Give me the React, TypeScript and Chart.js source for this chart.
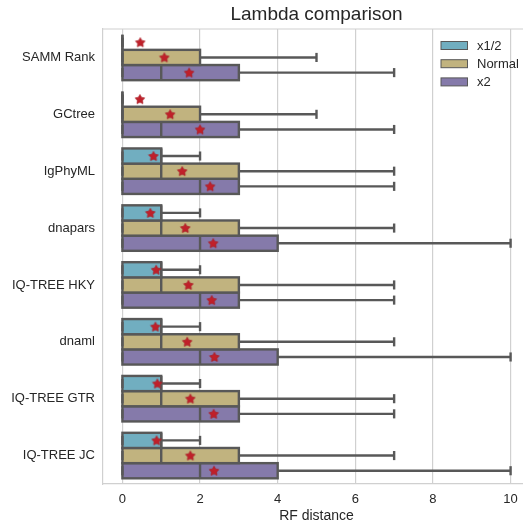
import React, { useEffect, useRef } from 'react';
import { Chart, registerables } from 'chart.js';
Chart.register(...registerables);

const methods = ['SAMM Rank', 'GCtree', 'IgPhyML', 'dnapars', 'IQ-TREE HKY', 'dnaml', 'IQ-TREE GTR', 'IQ-TREE JC'];
const seriesNames = ['x1/2', 'Normal', 'x2'];
const xTickValues = [0, 2, 4, 6, 8, 10];

// x1/2
const halfMin = [0, 0, 0, 0, 0, 0, 0, 0];
const halfQ1 = [0, 0, 0, 0, 0, 0, 0, 0];
const halfMedian = [0, 0, 1, 1, 1, 1, 1, 1];
const halfQ3 = [0, 0, 1, 1, 1, 1, 1, 1];
const halfMax = [0, 0, 2, 2, 2, 2, 2, 2];
const halfMean = [0.46, 0.45, 0.8, 0.72, 0.87, 0.85, 0.9, 0.88];

// Normal
const normalMin = [0, 0, 0, 0, 0, 0, 0, 0];
const normalQ1 = [0, 0, 0, 0, 0, 0, 0, 0];
const normalMedian = [0, 0, 1, 1, 1, 1, 1, 1];
const normalQ3 = [2, 2, 3, 3, 3, 3, 3, 3];
const normalMax = [5, 5, 7, 7, 7, 7, 7, 7];
const normalMean = [1.08, 1.23, 1.54, 1.62, 1.7, 1.67, 1.75, 1.75];

// x2
const doubleMin = [0, 0, 0, 0, 0, 0, 0, 0];
const doubleQ1 = [0, 0, 0, 0, 0, 0, 0, 0];
const doubleMedian = [1, 1, 2, 2, 2, 2, 2, 2];
const doubleQ3 = [3, 3, 3, 4, 3, 4, 3, 4];
const doubleMax = [7, 7, 7, 10, 7, 10, 7, 10];
const doubleMean = [1.72, 2.0, 2.26, 2.34, 2.3, 2.37, 2.35, 2.36];

const stats = [
  { min: halfMin, q1: halfQ1, med: halfMedian, q3: halfQ3, max: halfMax, mean: halfMean },
  { min: normalMin, q1: normalQ1, med: normalMedian, q3: normalQ3, max: normalMax, mean: normalMean },
  { min: doubleMin, q1: doubleQ1, med: doubleMedian, q3: doubleQ3, max: doubleMax, mean: doubleMean },
];

const COLORS = ['#71AEC0', '#C1B37F', '#857AAA'];
const LINE = '#585858';
const MEAN = '#c0202a';
const TEXT = '#262626';
const GRID = '#d0d0d0';
const FONT = "'Liberation Sans', Arial, sans-serif";

function makeStar(): HTMLCanvasElement {
  const c = document.createElement('canvas');
  c.width = 12;
  c.height = 12;
  const g = c.getContext('2d')!;
  const cx = 6, cy = 6.4, ro = 5.0, ri = 2.7;
  g.beginPath();
  for (let i = 0; i < 10; i++) {
    const r = i % 2 === 0 ? ro : ri;
    const a = -Math.PI / 2 + (i * Math.PI) / 5;
    const px = cx + r * Math.cos(a);
    const py = cy + r * Math.sin(a);
    if (i === 0) g.moveTo(px, py);
    else g.lineTo(px, py);
  }
  g.closePath();
  g.fillStyle = MEAN;
  g.fill();
  g.strokeStyle = '#a81a22';
  g.lineWidth = 0.7;
  g.stroke();
  return c;
}

const boxPlugin = {
  id: 'boxDecor',
  afterDatasetDraw(chart: any, args: any) {
    const meta = args.meta;
    if (meta.type !== 'bar') return;
    const s = stats[args.index];
    const xs = chart.scales.x;
    const ctx = chart.ctx;
    ctx.save();
    ctx.strokeStyle = LINE;
    ctx.lineWidth = 2.4;
    ctx.lineCap = 'butt';
    const line = (x1: number, y1: number, x2: number, y2: number) => {
      ctx.beginPath();
      ctx.moveTo(x1, y1);
      ctx.lineTo(x2, y2);
      ctx.stroke();
    };
    meta.data.forEach((el: any, j: number) => {
      const y = el.y;
      const h = el.height;
      const top = y - h / 2;
      const xq1 = xs.getPixelForValue(s.q1[j]);
      const xq3 = xs.getPixelForValue(s.q3[j]);
      const xmin = xs.getPixelForValue(s.min[j]);
      const xmax = xs.getPixelForValue(s.max[j]);
      const xmed = xs.getPixelForValue(s.med[j]);
      const cap = h * 0.6;
      line(xq3, y, xmax, y);
      line(xq1, y, xmin, y);
      line(xmax, y - cap / 2, xmax, y + cap / 2);
      line(xmin, y - cap / 2, xmin, y + cap / 2);
      ctx.strokeRect(xq1, top, xq3 - xq1, h);
      line(xmed, top, xmed, top + h);
    });
    ctx.restore();
  },
  afterDraw(chart: any) {
    const ctx = chart.ctx;
    const a = chart.chartArea;
    ctx.save();
    ctx.strokeStyle = GRID;
    ctx.lineWidth = 1.2;
    ctx.beginPath();
    ctx.moveTo(a.left, a.top);
    ctx.lineTo(a.right, a.top);
    ctx.stroke();
    ctx.fillStyle = TEXT;
    ctx.font = `19px ${FONT}`;
    ctx.textAlign = 'center';
    ctx.textBaseline = 'middle';
    ctx.fillText('Lambda comparison', (a.left + a.right) / 2, 15);
    ctx.font = `13px ${FONT}`;
    ctx.textAlign = 'left';
    seriesNames.forEach((name, i) => {
      const cy = 45.5 + i * 18.2;
      ctx.fillStyle = COLORS[i];
      ctx.fillRect(441, cy - 4, 26.5, 8);
      ctx.strokeStyle = LINE;
      ctx.lineWidth = 1;
      ctx.strokeRect(441, cy - 4, 26.5, 8);
      ctx.fillStyle = TEXT;
      ctx.fillText(name, 477, cy + 0.5);
    });
    ctx.restore();
  },
};

export default function App() {
  const ref = useRef<HTMLCanvasElement | null>(null);
  useEffect(() => {
    document.body.style.margin = '0';
    const star = makeStar();
    const barSets = seriesNames.map((name, k) => ({
      type: 'bar' as const,
      label: name,
      indexAxis: 'y' as const,
      xAxisID: 'x',
      yAxisID: 'y',
      data: stats[k].q1.map((v, j) => [v, stats[k].q3[j]]),
      backgroundColor: COLORS[k],
      borderWidth: 0,
      categoryPercentage: 0.8,
      barPercentage: 1.0,
      order: 1,
    }));
    const meanSets = seriesNames.map((name, k) => ({
      type: 'scatter' as const,
      label: name + ' mean',
      xAxisID: 'x',
      yAxisID: 'yMean',
      data: stats[k].mean.map((v, j) => ({ x: v, y: j + (k - 1) * (0.8 / 3) })),
      pointStyle: star,
      pointRadius: 5,
      backgroundColor: MEAN,
      borderColor: MEAN,
      order: 0,
    }));
    const chart = new Chart(ref.current!, {
      type: 'bar',
      data: { labels: methods, datasets: [...barSets, ...meanSets] as any },
      plugins: [boxPlugin],
      options: {
        animation: false,
        responsive: false,
        layout: { padding: { top: 29, left: 0, right: 1, bottom: 0 } },
        plugins: { legend: { display: false }, tooltip: { enabled: false }, title: { display: false } },
        scales: {
          x: {
            type: 'linear',
            position: 'bottom',
            offset: false,
            min: -0.5,
            max: 10.5,
            afterBuildTicks: (s: any) => {
              s.ticks = xTickValues.map((v) => ({ value: v }));
            },
            afterFit: (s: any) => {
              s.height = 44;
            },
            grid: { color: GRID, lineWidth: 1.2, drawTicks: false, offset: false },
            border: { display: true, color: GRID, width: 1.2 },
            ticks: { color: TEXT, font: { family: FONT, size: 13 }, padding: 8 },
            title: {
              display: true,
              text: 'RF distance',
              color: TEXT,
              font: { family: FONT, size: 14 },
              padding: { top: 0, bottom: 3 },
            },
          },
          y: {
            type: 'category',
            position: 'left',
            offset: true,
            afterFit: (s: any) => {
              s.width = 103;
            },
            grid: { display: false, drawTicks: false },
            border: { display: true, color: GRID, width: 1.2 },
            ticks: { color: TEXT, font: { family: FONT, size: 13 }, padding: 8 },
          },
          yMean: {
            type: 'linear',
            display: false,
            offset: false,
            min: -0.5,
            max: 7.5,
            reverse: true,
          },
        },
      } as any,
    });
    return () => chart.destroy();
  }, []);
  return (
    <div style={{ position: 'fixed', left: 0, top: 0, width: 523, height: 528, overflow: 'hidden', background: '#fff' }}>
      <canvas ref={ref} width={536} height={528} style={{ display: 'block' }} />
    </div>
  );
}
